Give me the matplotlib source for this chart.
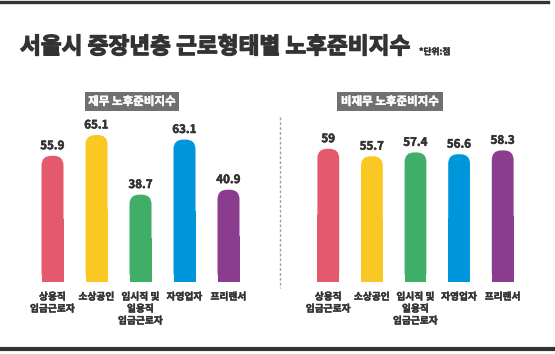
import matplotlib
matplotlib.use('Agg')
import matplotlib.pyplot as plt
import matplotlib.patheffects as pe
from matplotlib.patches import FancyBboxPatch
from matplotlib.lines import Line2D

plt.rcParams['font.family'] = ['Noto Sans CJK KR', 'DejaVu Sans']

# data
categories = ['상용직\n임금근로자', '소상공인', '임시직 및\n일용직\n임금근로자', '자영업자', '프리랜서']
finance = [55.9, 65.1, 38.7, 63.1, 40.9]
non_finance = [59, 55.7, 57.4, 56.6, 58.3]
colors = ['#E5596E', '#F9C823', '#3FAF68', '#0096DC', '#8A3C8F']
panel_titles = ['재무 노후준비지수', '비재무 노후준비지수']

W, H = 555, 354
fig = plt.figure(figsize=(W / 100, H / 100), dpi=100)
fig.patch.set_facecolor('white')

text_col = '#333333'
ymax = 70
ax_h = 158
px_per_y = ax_h / ymax


def bold(lw, col=text_col):
    # fake heavier weight with an outline of the same colour
    return [pe.withStroke(linewidth=lw, foreground=col)]


def draw_panel(left_px, width_px, values):
    ax = fig.add_axes([left_px / W, 72 / H, width_px / W, ax_h / H])
    ax.set_xlim(-0.5, len(values) - 0.5)
    ax.set_ylim(0, ymax)
    px_per_x = width_px / len(values)
    aspect = px_per_x / px_per_y
    # square lower half, rounded top
    ax.bar(range(len(values)), [v / 2 for v in values], width=0.5, color=colors)
    for i, v in enumerate(values):
        p = FancyBboxPatch((i - 0.25, 0), 0.5, v,
                           boxstyle='round,pad=0,rounding_size=0.22',
                           mutation_aspect=aspect, fc=colors[i], ec='none')
        ax.add_patch(p)
        ax.text(i, v + 1.6, f'{v:g}', ha='center', va='bottom',
                fontsize=8.3, fontweight='bold', color=text_col,
                path_effects=bold(0.4))
    ax.set_xticks(range(len(values)))
    ax.set_xticklabels(categories, fontsize=7.0, fontweight='bold',
                       color=text_col, linespacing=1.25)
    for lab in ax.get_xticklabels():
        lab.set_path_effects(bold(0.3))
    ax.tick_params(axis='x', length=0, pad=7)
    ax.set_yticks([])
    for s in ax.spines.values():
        s.set_visible(False)
    ax.patch.set_alpha(0)
    return ax


draw_panel(30.5, 220, finance)
draw_panel(306.5, 218, non_finance)

# title
fig.text(20 / W, 1 - 47 / H, '서울시 중장년층 근로형태별 노후준비지수',
         fontsize=16.3, fontweight='bold', color=text_col, ha='left', va='center',
         path_effects=bold(0.9))
fig.text(419 / W, 1 - 52 / H, '*단위:점', fontsize=6.3, fontweight='bold',
         color=text_col, ha='left', va='center', path_effects=bold(0.3))

# panel headers
for cx, t in zip([132, 390], panel_titles):
    fig.text(cx / W, 1 - 101.5 / H, t, fontsize=8.3, fontweight='bold',
             color='white', ha='center', va='center',
             path_effects=bold(0.3, 'white'),
             bbox=dict(boxstyle='square,pad=0.3', fc='#707070', ec='none'))

# separator
fig.add_artist(Line2D([280 / W, 280 / W], [1 - 117 / H, 1 - 288 / H],
                      color='#a0a0a0', lw=1, ls=(0, (2, 1.5))))

# top and bottom rules
fig.add_artist(Line2D([0, 548 / W], [1 - 1.5 / H, 1 - 1.5 / H], color='#333333', lw=2.4))
fig.add_artist(Line2D([2 / W, 553 / W], [1 - 349 / H, 1 - 349 / H], color='#333333', lw=3))

fig.savefig('out.png', dpi=100)
